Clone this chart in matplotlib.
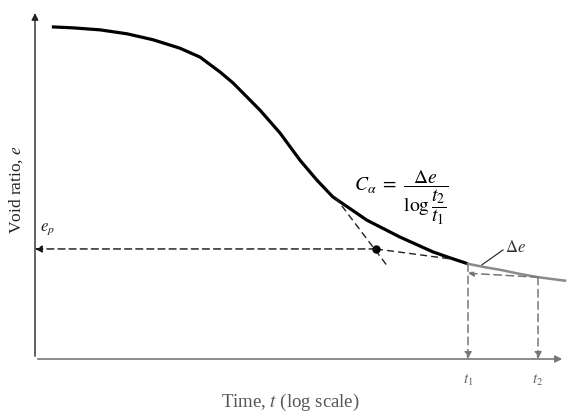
import matplotlib.pyplot as plt

plt.rcParams['mathtext.fontset'] = 'stix'
plt.rcParams['font.family'] = 'Liberation Serif'

# curva e - log t (lectura aproximada)
t_curve = [1.34, 1.94, 3.09, 4.95, 7.78, 12.4, 17.6, 24.9, 31.2, 49.9, 70.6, 100, 134, 177,
           320, 568, 1009, 1356, 1853]
e_curve = [1.270, 1.268, 1.264, 1.256, 1.244, 1.227, 1.209, 1.179, 1.157, 1.102, 1.056, 1.001,
           0.961, 0.927, 0.880, 0.846, 0.816, 0.804, 0.792]
# tramo de compresion secundaria (gris)
t_sec = [1853, 2500, 3229, 4500, 6259, 10000]
e_sec = [0.792, 0.785, 0.780, 0.772, 0.765, 0.758]

# construccion
t_tan1 = [184, 461]
e_tan1 = [0.927, 0.786]
t_tan2 = [375, 1356]
e_tan2 = [0.822, 0.802]
t_p, e_p = 375, 0.822
t1, t2 = 1853, 6259
e_t1, e_t2 = 0.792, 0.765

fig = plt.figure(figsize=(5.67, 4.16), dpi=100)
ax = fig.add_axes([35 / 567, 57 / 416, 530 / 567, 347 / 416])
ax.set_xscale('log')
ax.set_xlim(1, 1e4)
ax.set_ylim(0.6, 1.3)
for s in ax.spines.values():
    s.set_visible(False)
ax.set_xticks([])
ax.set_yticks([])
ax.minorticks_off()

# ejes con flecha
ax.annotate('', xy=(0, 1.005), xytext=(0, 0), xycoords='axes fraction',
            arrowprops=dict(arrowstyle='-|>', color='#222222', lw=1.0, mutation_scale=10))
ax.annotate('', xy=(1.0, 0), xytext=(0, 0), xycoords='axes fraction',
            arrowprops=dict(arrowstyle='-|>', color='#777777', lw=1.2, mutation_scale=10))

ax.plot(t_curve, e_curve, color='black', lw=2.3, solid_capstyle='butt', solid_joinstyle='round')
ax.plot(t_sec, e_sec, color='#8a8a8a', lw=1.8, clip_on=False)

ax.plot(t_tan1, e_tan1, color='#222222', lw=1.0, ls=(0, (5, 3)))
ax.plot(t_tan2, e_tan2, color='#222222', lw=1.0, ls=(0, (5, 3)))
ax.plot([t_p], [e_p], 'o', color='black', ms=5)
ax.annotate('', xy=(1, e_p), xytext=(t_p, e_p),
            arrowprops=dict(arrowstyle='-|>', color='#111111', lw=1.0, ls=(0, (5, 3)),
                            mutation_scale=10, shrinkA=0, shrinkB=0))

# t1, t2
for tt, ee in [(t1, e_t1), (t2, e_t2)]:
    ax.annotate('', xy=(tt, 0.6), xytext=(tt, ee),
                arrowprops=dict(arrowstyle='-|>', color='#777777', lw=1.1, ls=(0, (5, 3)),
                                mutation_scale=10, shrinkA=0, shrinkB=0))
ax.annotate('', xy=(t1, e_t2 + 0.008), xytext=(t2, e_t2),
            arrowprops=dict(arrowstyle='-|>', color='#777777', lw=1.1, ls=(0, (5, 3)),
                            mutation_scale=8, shrinkA=0, shrinkB=0))
ax.plot([2361, 3404], [0.790, 0.820], color='#333333', lw=0.9)

ax.text(3532, 0.824, r'$\Delta e$', fontsize=12, color='#333333', va='center', ha='left')
ax.text(1.09, 0.862, r'$e_p$', fontsize=12, color='#222222', va='center', ha='left')
ax.text(580, 0.925, r'$C_\alpha\ =\ \dfrac{\Delta e}{\log \dfrac{t_2}{t_1}}$', fontsize=14,
        color='black', va='center', ha='center')
ax.text(t1, 0.557, r'$t_1$', fontsize=11, color='#666666', ha='center', va='center', clip_on=False)
ax.text(t2, 0.557, r'$t_2$', fontsize=11, color='#666666', ha='center', va='center', clip_on=False)

fig.text(290 / 567, 1 - 402 / 416, 'Time, $t$ (log scale)', fontsize=13.5, color='#555555',
         ha='center', va='center')
fig.text(16 / 567, 1 - 190 / 416, 'Void ratio, $e$', fontsize=12.5, color='#222222',
         ha='center', va='center', rotation=90)

fig.savefig('out.png', dpi=100)
